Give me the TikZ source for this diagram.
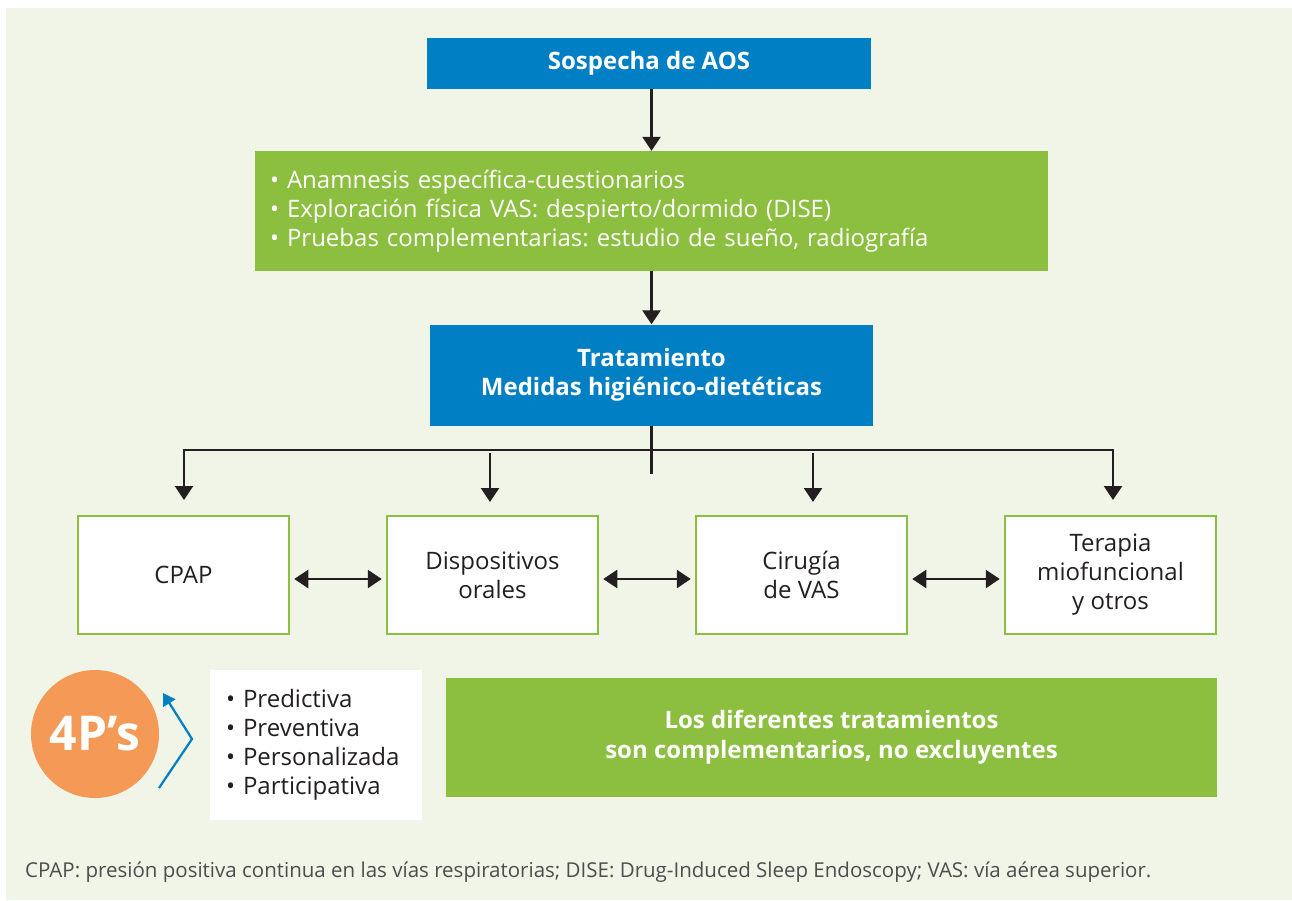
\documentclass[tikz,border=0pt]{standalone}
\usepackage{fontspec}
\setmainfont{Open Sans}
\usetikzlibrary{arrows.meta}
\definecolor{bgpanel}{HTML}{F1F5E8}
\definecolor{aosblue}{HTML}{007FC4}
\definecolor{aosgreen}{HTML}{8CBE40}
\definecolor{aosorange}{HTML}{F49A56}
\definecolor{ink}{HTML}{231F20}
\definecolor{notegray}{HTML}{4D4D4D}
\frenchspacing

\begin{document}
\begin{tikzpicture}[x=1pt,y=-1pt,
  txt/.style={font=\fontsize{24}{29}\selectfont},
  bluebox/.style={rectangle, fill=aosblue, text=white, font=\fontsize{24}{29}\selectfont\bfseries, align=center, inner sep=0pt},
  greenbox/.style={rectangle, fill=aosgreen, text=white, inner sep=0pt},
  optbox/.style={rectangle, fill=white, draw=aosgreen, line width=2.5pt, minimum width=211pt, minimum height=118pt, align=center, text=ink, font=\fontsize{24}{29}\selectfont, inner sep=0pt},
  flow/.style={draw=ink, line width=2.5pt, -{Triangle[width=18pt,length=14pt]}},
  link/.style={draw=ink, line width=2.5pt},
  both/.style={draw=ink, line width=2.5pt, {Triangle[width=18pt,length=14pt]}-{Triangle[width=18pt,length=14pt]}, shorten >=4pt, shorten <=4pt},
  chevron/.style={draw=aosblue, line width=2.2pt, -{Triangle[width=14pt,length=12pt]}}
]
\useasboundingbox (0,0) rectangle (1292,900);
\fill[white] (0,0) rectangle (1292,900);
\fill[bgpanel] (6,8) rectangle (1292,900);

% main column
\node[bluebox, minimum width=444pt, minimum height=51pt] (sospecha) at (649,63.5) {Sospecha de AOS};
\node[greenbox, txt, minimum width=793pt, minimum height=120pt, text width=763pt, inner xsep=15pt, align=left] (anam) at (651.5,211)
  {• Anamnesis específica-cuestionarios\\• Exploración física VAS: despierto/dormido (DISE)\\• Pruebas complementarias: estudio de sueño, radiografía};
\node[bluebox, minimum width=443pt, minimum height=101pt] (trat) at (651.5,375) {Tratamiento\\Medidas higiénico-dietéticas};

\draw[flow] (anam.north |- sospecha.south) -- (anam.north);
\draw[flow] (trat.north |- anam.south) -- (trat.north);

% treatment options
\node[optbox] (cpap) at (183.5,575) {CPAP};
\node[optbox] (disp) at (492.5,575) {Dispositivos\\orales};
\node[optbox] (ciru) at (801.5,575) {Cirugía\\de VAS};
\node[optbox] (tera) at (1110.5,575) {Terapia\\miofuncional\\y otros};

% branching from the treatment box
\coordinate (hub) at (651.5,474);
\coordinate (bar) at (651.5,450);
\coordinate (tipA) at (184,500);
\coordinate (tipD) at (1113,500);
\coordinate (startB) at (490,453);
\coordinate (tipB) at (490,502);
\coordinate (startC) at (813,453);
\coordinate (tipC) at (813,502);
\draw[link] (trat.south) -- (hub);
\draw[flow] (bar) -| (tipA);
\draw[flow] (bar) -| (tipD);
\draw[flow] (startB) -- (tipB);
\draw[flow] (startC) -- (tipC);

% links between options
\draw[both] ([yshift=-4pt]cpap.east) -- ([yshift=-4pt]disp.west);
\draw[both] ([yshift=-4pt]disp.east) -- ([yshift=-4pt]ciru.west);
\draw[both] ([yshift=-4pt]ciru.east) -- ([yshift=-4pt]tera.west);

% 4P's
\node[circle, fill=aosorange, minimum size=128pt, inner sep=0pt, text=white, font=\fontsize{48}{48}\selectfont\bfseries] (fourp) at (95,734) {4P’s};
\coordinate (chevA) at (159,788);
\coordinate (chevB) at (192,739);
\coordinate (chevC) at (163,693);
\draw[chevron] (chevA) -- (chevB) -- (chevC);
\node[rectangle, fill=white, txt, text=ink, minimum width=212pt, minimum height=150pt, text width=180pt, inner xsep=16pt, inner ysep=0pt, align=left] (plist) at (316,745)
  {• Predictiva\\• Preventiva\\• Personalizada\\• Participativa};

\node[greenbox, minimum width=771pt, minimum height=119pt, align=center, font=\fontsize{24}{30}\selectfont\bfseries] (concl) at (831.5,737.5)
  {Los diferentes tratamientos\\son complementarios, no excluyentes};

% footnote
\node[anchor=west, inner sep=0pt, text=notegray, font=\fontsize{20.5}{24}\selectfont] (note) at (25,872)
  {CPAP: presión positiva continua en las vías respiratorias; DISE: Drug-Induced Sleep Endoscopy; VAS: vía aérea superior.};
\end{tikzpicture}
\end{document}
